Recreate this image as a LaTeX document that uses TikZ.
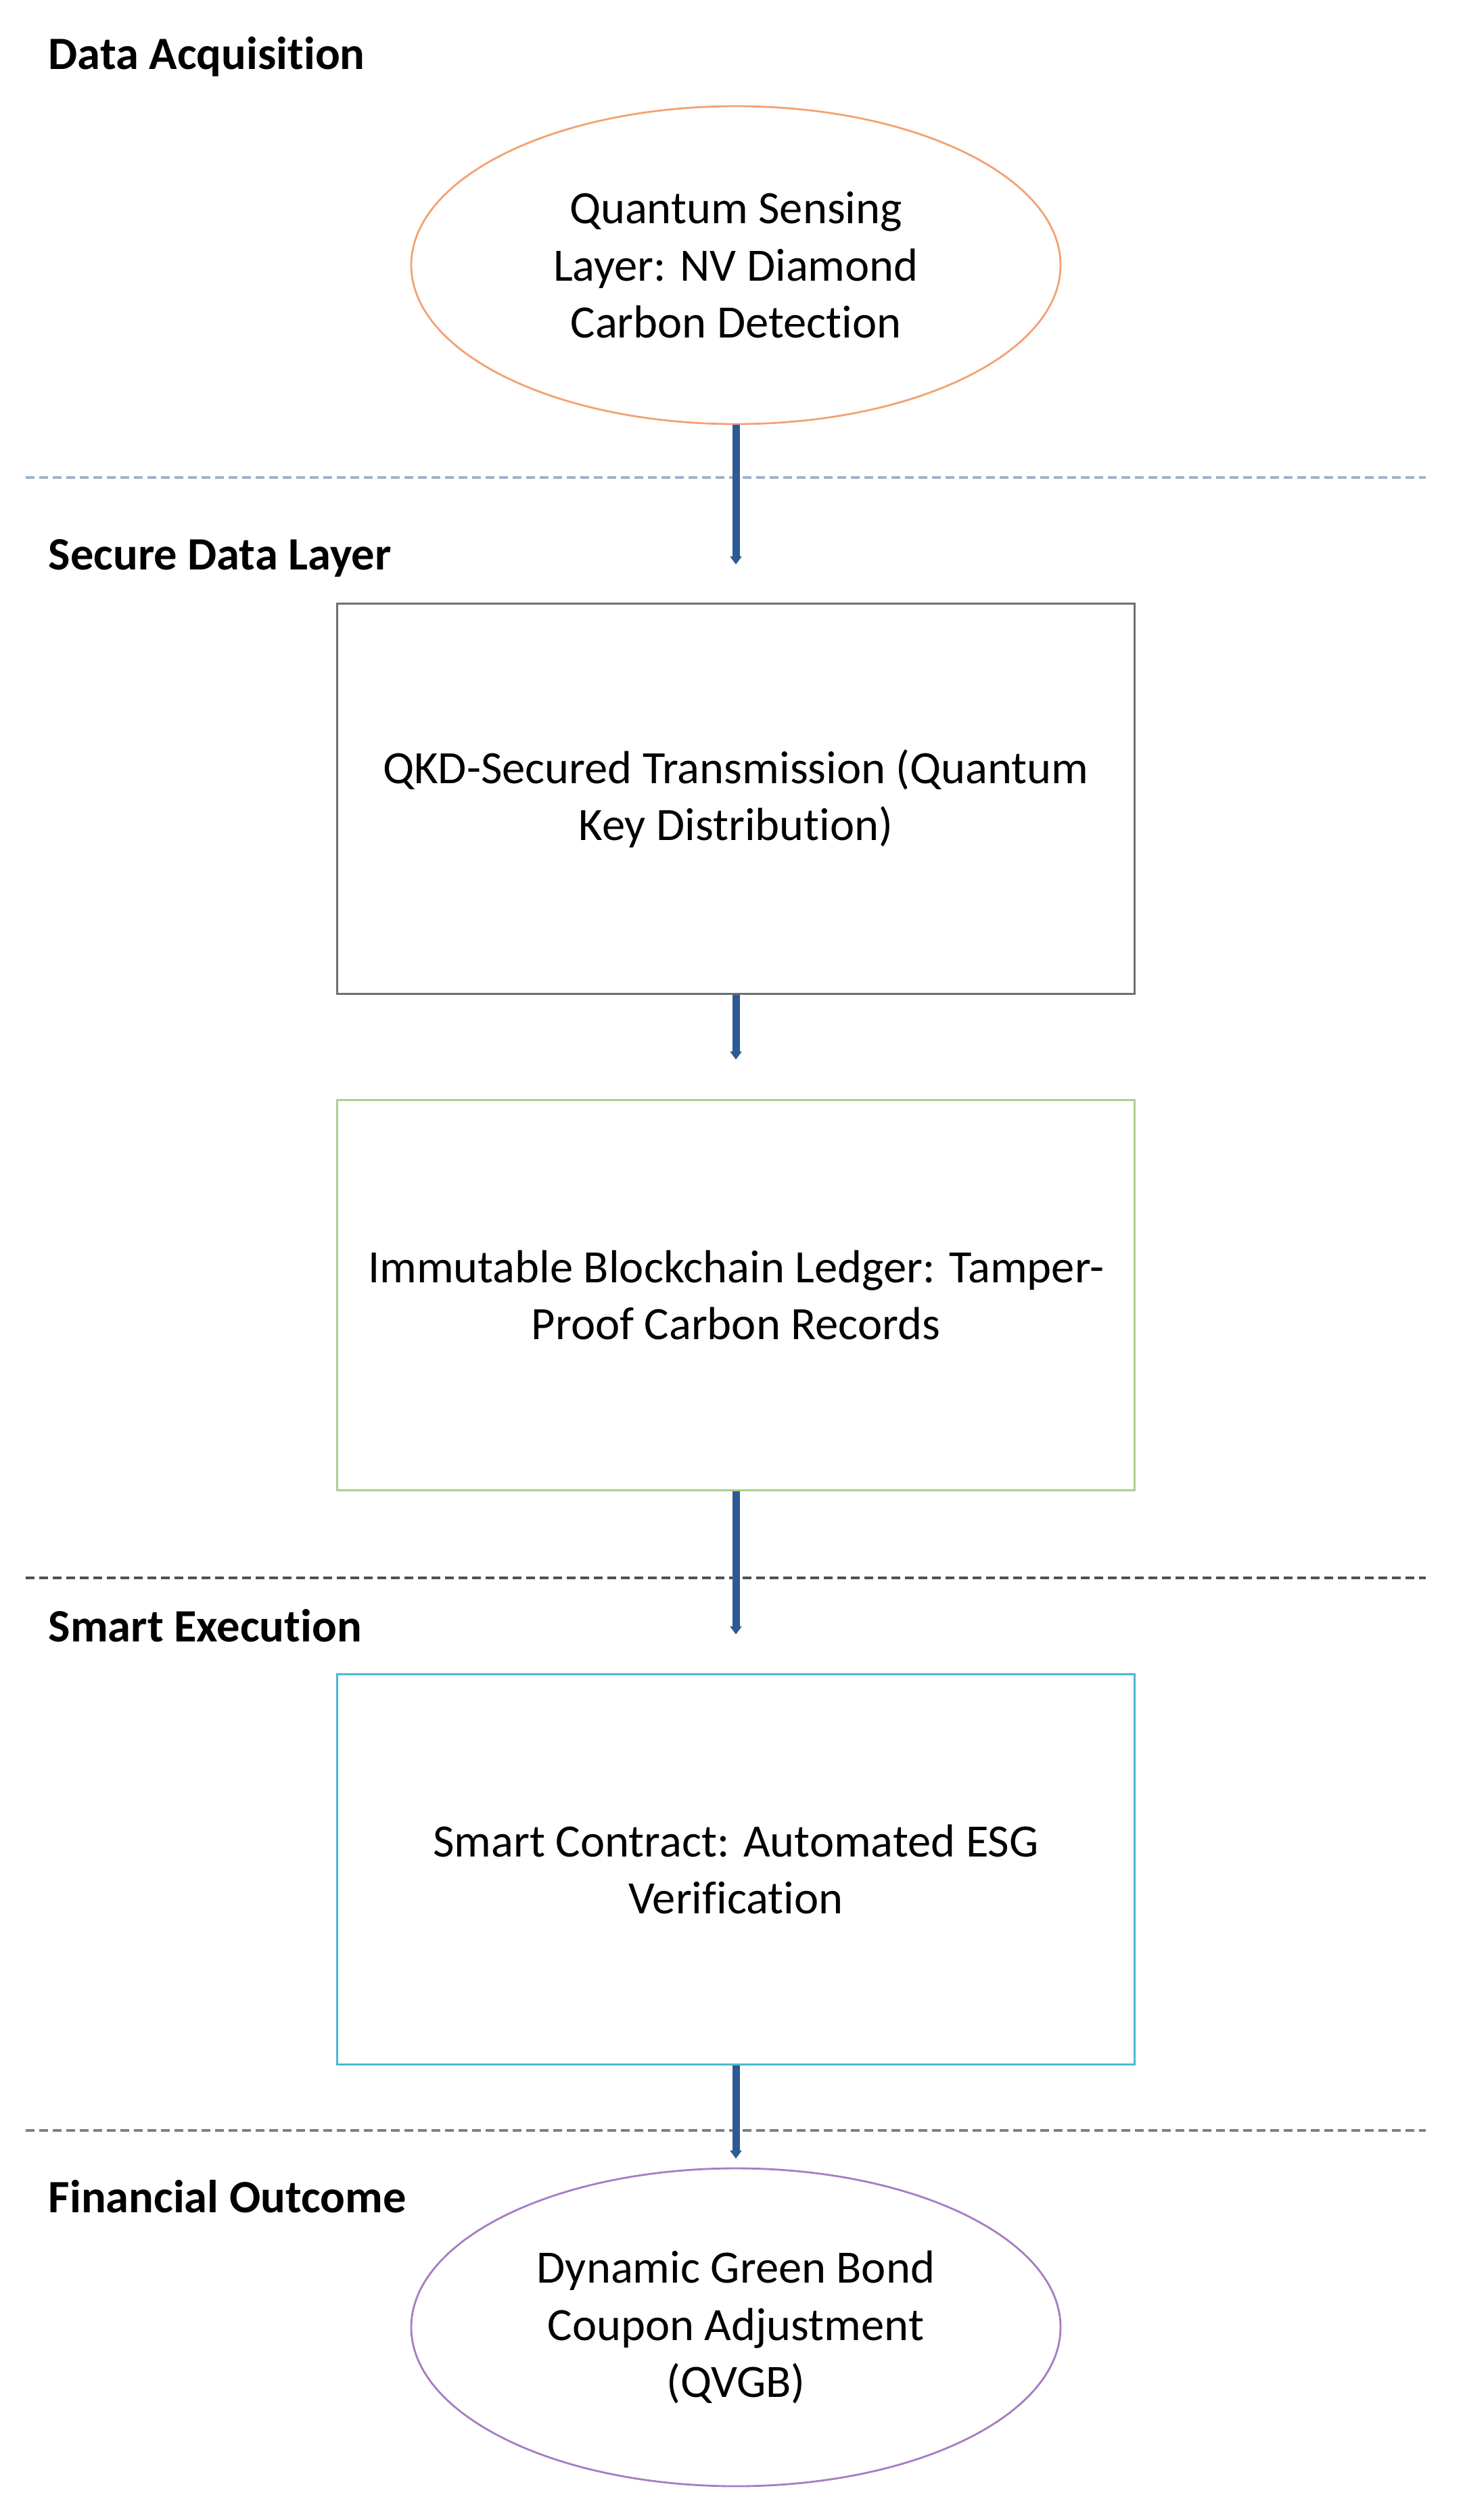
\documentclass[tikz,border=0pt]{standalone}
\usepackage{fontspec}
\setmainfont{Carlito}[Ligatures={NoCommon,NoContextual},Contextuals=NoAlternate]
\usepackage{tikz}
\usetikzlibrary{shapes.geometric,positioning,arrows.meta}

\definecolor{sensecol}{HTML}{F2A273}
\definecolor{qkdcol}{HTML}{6B7078}
\definecolor{ledgercol}{HTML}{A9D18E}
\definecolor{contractcol}{HTML}{4DB8CF}
\definecolor{bondcol}{HTML}{A77DC2}
\definecolor{flowblue}{HTML}{2E5A94}
\definecolor{divtop}{HTML}{9FB3C8}
\definecolor{divmid}{HTML}{505050}
\definecolor{divlow}{HTML}{808080}

\begin{document}
\begin{tikzpicture}[node distance=7.5cm,on grid,
  txt/.style={font=\fontsize{19.5}{24}\selectfont,align=center},
  oval/.style={ellipse,draw,line width=0.8pt,minimum width=9.6cm,minimum height=4.7cm,inner sep=0pt,txt},
  panel/.style={rectangle,draw,line width=1.1pt,minimum width=11.79cm,minimum height=5.77cm,txt},
  layer/.style={anchor=base west,inner sep=0pt,font=\fontsize{19.5}{24}\selectfont\bfseries},
  flow/.style={-{Triangle[length=1.2mm,width=1.7mm]},line width=1.1mm,color=flowblue},
  divider/.style={line width=0.9pt,dash pattern=on 1.3mm off 0.7mm}]
\useasboundingbox (0,0) rectangle (21.66,-37.26);

% layer titles
\node[layer] (lab_1) at (0.71,-1.02) {Data Acquisition};
\node[layer] (lab_2) at (0.71,-8.42) {Secure Data Layer};
\node[layer] (lab_3) at (0.71,-24.27) {Smart Execution};
\node[layer] (lab_4) at (0.71,-32.71) {Financial Outcome};

% dividers
\draw[divider,draw=divtop] (0.38,-7.06) -- (21.08,-7.06);
\draw[divider,draw=divmid] (0.38,-23.33) -- (21.08,-23.33);
\draw[divider,draw=divlow] (0.38,-31.50) -- (21.08,-31.50);

% pipeline
\node[oval,draw=sensecol] (sense) at (10.88,-3.92) {Quantum Sensing\\Layer: NV Diamond\\Carbon Detection};
\node[panel,draw=qkdcol] (qkd) [below=7.89cm of sense] {QKD-Secured Transmission (Quantum\\Key Distribution)};
\node[panel,draw=ledgercol] (ledger) [below=7.34cm of qkd] {Immutable Blockchain Ledger: Tamper-\\Proof Carbon Records};
\node[panel,draw=contractcol] (contract) [below=8.49cm of ledger] {Smart Contract: Automated ESG\\Verification};
\node[oval,draw=bondcol] (bond) [below=6.77cm of contract] {Dynamic Green Bond\\Coupon Adjustment\\(QVGB)};

\path[flow]
  (sense) edge ([yshift=5.6mm]qkd.north)
  (qkd) edge ([yshift=5.8mm]ledger.north)
  (ledger) edge ([yshift=5.7mm]contract.north)
  (contract) edge ([yshift=1.3mm]bond.north)
  ;
\end{tikzpicture}
\end{document}
